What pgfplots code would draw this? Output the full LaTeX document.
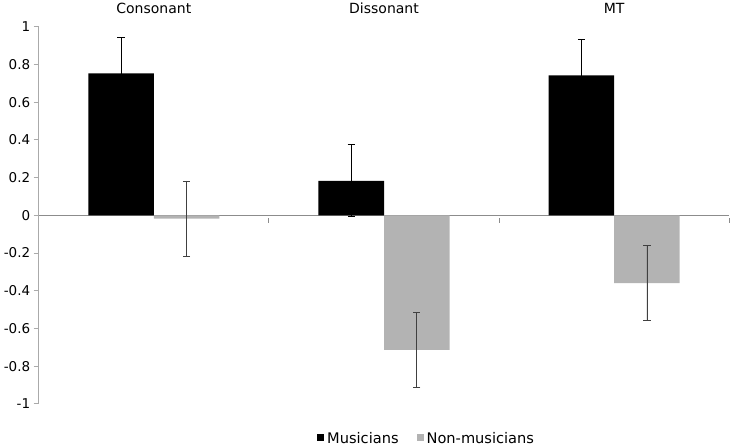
\documentclass[border=0pt]{standalone}
\usepackage{pgfplots}
\pgfplotsset{compat=1.18}
\usepackage{fontspec}
\setmainfont{DejaVu Sans}
\definecolor{nmgray}{RGB}{179,179,179}
\definecolor{xaxgray}{RGB}{140,140,140}
\definecolor{yaxgray}{RGB}{170,170,170}
\begin{document}
\begin{tikzpicture}
\begin{axis}[
  scale only axis,
  width=690.6pt, height=377.2pt,
  xmin=-0.5, xmax=2.5,
  ymin=-1, ymax=1,
  clip=false,
  axis x line*=middle,
  axis y line*=left,
  x axis line style={xaxgray, line width=0.9pt, -},
  y axis line style={yaxgray, line width=0.9pt, -},
  xtick={0.5,1.5,2.5}, xticklabels={},
  x tick style={xaxgray, line width=0.9pt, yshift=-2.5pt},
  ytick={-1,-0.8,-0.6,-0.4,-0.2,0,0.2,0.4,0.6,0.8,1},
  yticklabels={-1,-0.8,-0.6,-0.4,-0.2,0,0.2,0.4,0.6,0.8,1},
  ytick align=outside,
  y tick style={yaxgray, line width=0.9pt},
  major tick length=5pt,
  tick label style={font=\fontsize{13.5}{15}\selectfont, black},
  ybar,
  bar width=0.2846,
  legend style={at={(0.561,0)}, anchor=north, yshift=-27pt, draw=none,
    inner sep=0pt, nodes={inner sep=1pt},
    font=\fontsize{14.6}{16}\selectfont, legend columns=2,
    /tikz/every even column/.append style={column sep=17pt}},
  legend image code/.code={\fill[#1] (0pt,-3pt) rectangle (7pt,4pt); \path (9pt,0pt);},
  error bars/error bar style={line width=0.9pt},
  error bars/error mark options={rotate=90, mark size=3.6pt, line width=0.9pt},
]
\addplot[fill=black, draw=none, bar shift=-0.1423,
  error bars/.cd, y dir=both, y explicit,
  error bar style={black}]
  coordinates {
  (0,0.753) +- (0,0.19)
  (1,0.183) +- (0,0.19)
  (2,0.742) +- (0,0.19)
};
\addlegendentry{Musicians}
\addplot[fill=nmgray, draw=none, bar shift=0.1423,
  error bars/.cd, y dir=both, y explicit,
  error bar style={black!75}]
  coordinates {
  (0,-0.018) +- (0,0.20)
  (1,-0.713) +- (0,0.198)
  (2,-0.360) +- (0,0.199)
};
\addlegendentry{Non-musicians}
\node[anchor=base, yshift=12.7pt, font=\fontsize{14}{16}\selectfont] at (axis cs:0,1) {Consonant};
\node[anchor=base, yshift=12.7pt, font=\fontsize{14}{16}\selectfont] at (axis cs:1,1) {Dissonant};
\node[anchor=base, yshift=12.7pt, font=\fontsize{14}{16}\selectfont] at (axis cs:2,1) {MT};
\coordinate (bl) at (rel axis cs:0,0);
\coordinate (tr) at (rel axis cs:1,1);
\end{axis}
\pgfresetboundingbox
\path ([shift={(-38.7pt,-42.1pt)}]bl) rectangle ([shift={(2.7pt,26.7pt)}]tr);
\end{tikzpicture}
\end{document}
